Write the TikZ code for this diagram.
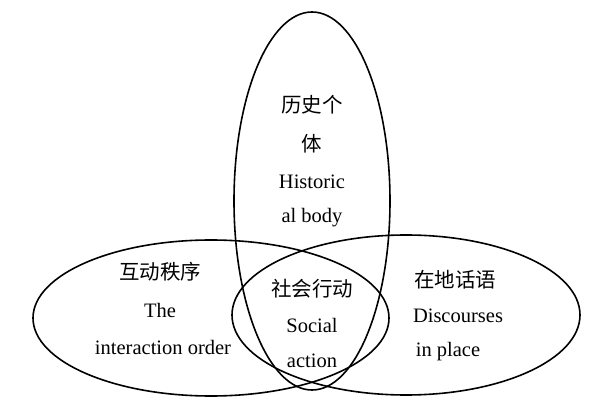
\documentclass[tikz,border=0pt]{standalone}
\usepackage{fontspec}
\setmainfont{Liberation Serif}
\newfontfamily\cjk{Noto Sans CJK SC}
\tikzset{every picture/.style={line width=1.6pt}}
\tikzset{lbl/.style={inner sep=0.75pt,font=\fontsize{20.5}{23}\selectfont,align=center}}
\begin{document}
\begin{tikzpicture}[x=1pt,y=1pt,yscale=-1,xscale=1]
\useasboundingbox (0,0) rectangle (600,414);

%Shape: Ellipse (historical body)
\draw (312,201) ellipse [x radius=78, y radius=189];
%Shape: Ellipse (interaction order)
\draw (211,318) ellipse [x radius=178, y radius=78];
%Shape: Ellipse (discourses in place)
\draw (406,315) ellipse [x radius=174, y radius=80];

% Text Node
\node[lbl] (hist1) at (312,105) {\cjk 历史个};
\node[lbl] (hist2) at (312,144) {\cjk 体};
\node[lbl] (hist3) at (312,182) {Historic};
\node[lbl] (hist4) at (312,218) {al body};
% Text Node
\node[lbl] (inter1) at (160,272) {\cjk 互动秩序};
\node[lbl] (inter2) at (160,310) {The};
\node[lbl] (inter3) at (163,347) {interaction order};
% Text Node
\node[lbl] (soc1) at (312,289) {\cjk 社会行动};
\node[lbl] (soc2) at (312,325) {Social};
\node[lbl] (soc3) at (312,361) {action};
% Text Node
\node[lbl] (disc1) at (455,280) {\cjk 在地话语};
\node[lbl] (disc2) at (458,316) {Discourses};
\node[lbl] (disc3) at (448,352) {in place};
\end{tikzpicture}
\end{document}
